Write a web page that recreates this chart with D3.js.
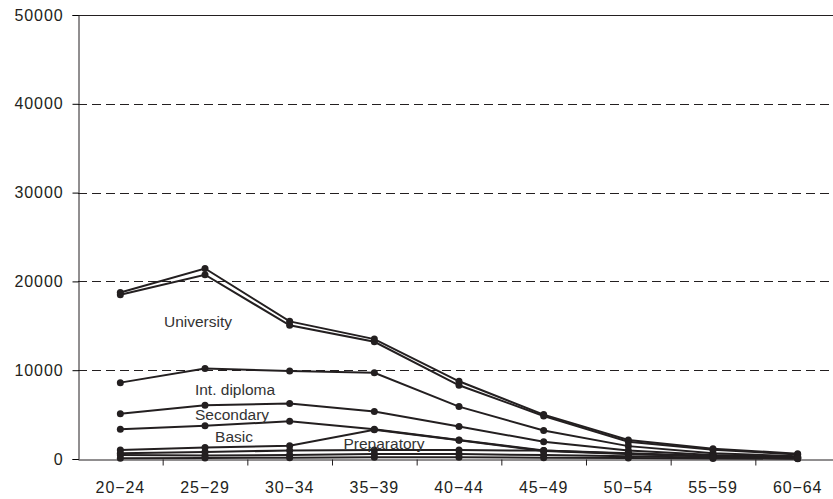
<!DOCTYPE html>
<html>
<head>
<meta charset="utf-8">
<script src="https://cdn.jsdelivr.net/npm/d3@7"></script>
<style>
  body { margin: 0; background: #fff; }
  #chart { width: 833px; height: 499px; overflow: hidden; }
  text { font-family: "Liberation Sans", Arial, sans-serif; fill: #231f20; }
</style>
</head>
<body>
<div id="chart"></div>
<script>
const ageGroups = ['20−24', '25−29', '30−34', '35−39', '40−44', '45−49', '50−54', '55−59', '60−64'];
const yTicks = [0, 10000, 20000, 30000, 40000, 50000];

const universityA = [18750, 21450, 15500, 13500, 8750, 5000, 2150, 1150, 600];
const universityB = [18500, 20750, 15050, 13200, 8300, 4850, 1950, 1050, 500];
const intDiploma  = [8600, 10200, 9900, 9700, 5900, 3200, 1450, 650, 300];
const secondary   = [5100, 6050, 6250, 5350, 3650, 1950, 950, 450, 200];
const basic       = [3350, 3750, 4250, 3350, 2150, 950, 650, 350, 150];
const basicB      = [1000, 1300, 1500, 3300, 2100, 900, 550, 300, 120];
const preparatory = [650, 800, 950, 1000, 1000, 950, 600, 250, 100];
const prepB       = [450, 400, 450, 550, 550, 450, 300, 150, 70];
const prepC       = [80, 120, 150, 200, 200, 150, 100, 60, 30];

const seriesList = [universityA, universityB, intDiploma, secondary, basic, basicB, preparatory, prepB, prepC];

const labels = [
    {text: 'University', x: 198, y: 327},
    {text: 'Int. diploma', x: 235, y: 395},
    {text: 'Secondary', x: 232, y: 420},
    {text: 'Basic', x: 234, y: 442},
    {text: 'Preparatory', x: 384, y: 449}
];

const width = 833, height = 499;
const margin = {top: 15, left: 78, bottom: 40};
const plotW = 762, plotH = height - margin.top - margin.bottom;

const svg = d3.select('#chart').append('svg')
    .attr('width', width)
    .attr('height', height);

const plot = svg.append('g')
    .attr('transform', `translate(${margin.left},${margin.top})`);

const xScale = d3.scaleBand().domain(ageGroups).range([0, plotW]);
const yScale = d3.scaleLinear().domain([0, 50000]).range([plotH, 0]);
const xc = d => xScale(d) + xScale.bandwidth() / 2;

// dashed grid
plot.selectAll('.grid')
    .data(yTicks.filter(t => t > 0 && t < 50000))
    .enter().append('line')
    .attr('x1', 0).attr('x2', plotW)
    .attr('y1', d => Math.round(yScale(d)) + 0.5)
    .attr('y2', d => Math.round(yScale(d)) + 0.5)
    .attr('stroke', '#231f20')
    .attr('stroke-dasharray', '9,5');

// top border
plot.append('line')
    .attr('x1', 0).attr('x2', plotW)
    .attr('y1', 0.5).attr('y2', 0.5)
    .attr('stroke', '#231f20');

// y axis
const yAxis = plot.append('g')
    .attr('transform', 'translate(0.5,0)')
    .call(d3.axisLeft(yScale).tickValues(yTicks).tickSize(6).tickPadding(9).tickFormat(d3.format('d')));
yAxis.selectAll('text').style('font-size', '16px').style('letter-spacing', '0.9px');

// x axis
const xAxis = plot.append('g')
    .attr('transform', `translate(0,${plotH + 0.5})`)
    .call(d3.axisBottom(xScale).tickSize(0).tickPadding(22));
xAxis.selectAll('text').style('font-size', '16px').style('letter-spacing', '0.9px');
xAxis.selectAll('.tick')
    .append('line')
    .attr('x1', xScale.bandwidth() / 2 + 0.5)
    .attr('x2', xScale.bandwidth() / 2 + 0.5)
    .attr('y1', 0).attr('y2', 6)
    .attr('stroke', '#231f20');
svg.selectAll('.domain').attr('stroke', '#231f20');

// lines
const line = d3.line()
    .x((d, i) => xc(ageGroups[i]))
    .y(d => yScale(d));

plot.selectAll('.series')
    .data(seriesList)
    .enter().append('path')
    .attr('fill', 'none')
    .attr('stroke', '#231f20')
    .attr('stroke-width', 2)
    .attr('d', line);

seriesList.forEach(s => {
    plot.selectAll(null)
        .data(s)
        .enter().append('circle')
        .attr('cx', (d, i) => xc(ageGroups[i]))
        .attr('cy', d => yScale(d))
        .attr('r', 3.5)
        .attr('fill', '#231f20');
});

// series labels
svg.selectAll('.lbl')
    .data(labels)
    .enter().append('text')
    .attr('x', d => d.x)
    .attr('y', d => d.y)
    .attr('text-anchor', 'middle')
    .style('font-size', '15.5px')
    .style('fill', '#333')
    .text(d => d.text);
</script>
</body>
</html>
